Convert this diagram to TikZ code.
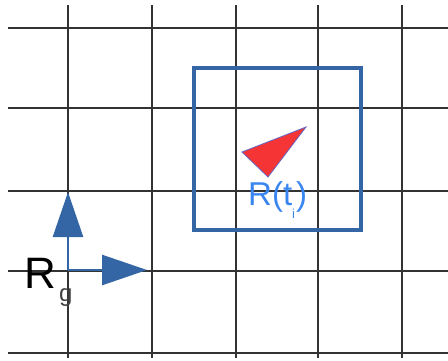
\documentclass[tikz,border=0pt]{standalone}
\usepackage{fontspec}
\setmainfont{Liberation Sans}
\usetikzlibrary{arrows.meta}
\definecolor{frameblue}{HTML}{3465A4}
\definecolor{labelblue}{HTML}{3A86F0}
\definecolor{robotred}{HTML}{F53535}

\begin{document}
\begin{tikzpicture}[
        x=1pt, y=-1pt,
        gridline/.style={draw=black!80, line width=1.6pt},
        frame/.style={draw=frameblue, line width=4pt},
        axis/.style={draw=frameblue, line width=2.6pt,
                     -{Triangle[length=45pt, width=30pt]}},
        lbl/.style={inner sep=0pt, anchor=base west}
    ]
        \useasboundingbox (0,0) rectangle (448,360);
        % world grid
        \foreach \x in {68,152,236,318,402}
            \draw[gridline] (\x,5) -- (\x,358);
        \foreach \y in {28,108,191,271,353}
            \draw[gridline] (8,\y) -- (448,\y);
        % robot frame at time t_i
        \draw[frame] (194,68) rectangle (361,230);
        \filldraw[fill=robotred, draw=black!40!blue!60, line width=0.8pt]
            (242,152) -- (306,127) -- (268,177) -- cycle;
        \node[lbl, text=labelblue, font=\fontsize{33}{33}\selectfont] (rt) at (248,205)
            {R(t\raisebox{-0.4em}{\fontsize{13}{13}\selectfont i}\kern1pt)};
        % global frame
        \coordinate (og) at (68,270);
        \coordinate (yg) at (68,192);
        \coordinate (xg) at (147,270);
        \node[lbl, font=\fontsize{44}{44}\selectfont] (rg) at (24,288) {R};
        \node[lbl, text=black!75, font=\fontsize{24}{24}\selectfont] (g) at (59,301) {g};
        \draw[axis] (og) -- (yg);
        \draw[axis] (og) -- (xg);
    \end{tikzpicture}
\end{document}
